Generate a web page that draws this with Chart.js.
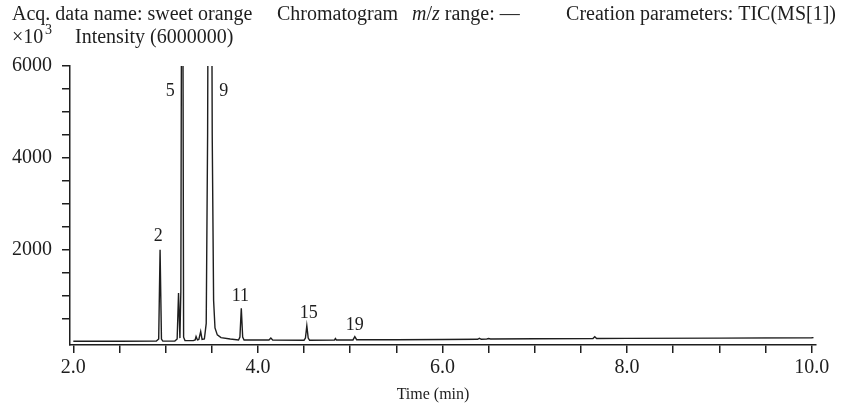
<!DOCTYPE html>
<html>
<head>
<meta charset="utf-8">
<script src="https://cdn.jsdelivr.net/npm/chart.js@4.4.0/dist/chart.umd.min.js"></script>
<style>
  html, body { margin: 0; padding: 0; background: #fff; }
  .wrap { width: 841px; height: 408px; position: relative; }
</style>
</head>
<body>
<div class="wrap"><canvas id="tic"></canvas></div>
<script>
// retention time (min) and intensity (x10^3)
const times = [
  2.0, 2.5, 2.90, 2.925, 2.94, 2.955, 2.97, 3.10, 3.125, 3.14, 3.155, 3.165, 3.18, 3.195, 3.21,
  3.30, 3.32, 3.33, 3.345, 3.36, 3.38, 3.395, 3.42, 3.44, 3.455, 3.47, 3.49, 3.505, 3.52, 3.535,
  3.56, 3.60, 3.70, 3.79, 3.805, 3.82, 3.835, 3.85, 4.12, 4.14, 4.16, 4.50, 4.515, 4.53, 4.545,
  4.56, 4.83, 4.84, 4.85, 5.03, 5.05, 5.07, 5.5, 6.0, 6.38, 6.40, 6.42, 6.48, 6.50, 6.52,
  7.0, 7.63, 7.65, 7.67, 8.0, 9.0, 10.0, 10.02
];
const intensity = [
  10, 12, 15, 60, 2000, 60, 15, 18, 60, 1060, 80, 1100, 14000, 100, 25,
  25, 40, 115, 40, 50, 224, 50, 60, 400, 4500, 14000, 14000, 4500, 900, 300,
  150, 90, 60, 40, 100, 730, 100, 40, 40, 80, 40, 35, 80, 350, 80,
  35, 40, 70, 40, 40, 110, 45, 45, 50, 55, 75, 55, 60, 70, 60,
  65, 70, 110, 72, 75, 80, 88, 90
];

// peak numbers and where they sit (time, intensity)
const peakLabels = ['2', '5', '9', '11', '15', '19'];
const peakLabelTime = [2.92, 3.05, 3.63, 3.81, 4.55, 5.05];
const peakLabelLevel = [2300, 5460, 5460, 1000, 620, 370];

const xTicks = [2.0, 2.5, 3.0, 3.5, 4.0, 4.5, 5.0, 5.5, 6.0, 6.5, 7.0, 7.5, 8.0, 8.5, 9.0, 9.5, 10.0];
const yTicks = [500, 1000, 1500, 2000, 2500, 3000, 3500, 4000, 4500, 5000, 5500, 6000];

const INK = '#1e1e1e';
const SERIF = "'Liberation Serif', 'DejaVu Serif', serif";

const headerText = {
  id: 'headerText',
  afterDraw(chart) {
    const ctx = chart.ctx;
    const xs = chart.scales.x;
    const ys = chart.scales.y;
    ctx.save();
    ctx.fillStyle = INK;
    ctx.textBaseline = 'alphabetic';
    ctx.textAlign = 'left';

    // first header line
    ctx.font = '20px ' + SERIF;
    ctx.fillText('Acq. data name: sweet orange', 12, 20);
    ctx.fillText('Chromatogram', 277, 20);
    let cx = 412;
    ctx.font = 'italic 20px ' + SERIF;
    ctx.fillText('m', cx, 20);
    cx += ctx.measureText('m').width;
    ctx.font = '20px ' + SERIF;
    ctx.fillText('/', cx, 20);
    cx += ctx.measureText('/').width;
    ctx.font = 'italic 20px ' + SERIF;
    ctx.fillText('z', cx, 20);
    cx += ctx.measureText('z').width;
    ctx.font = '20px ' + SERIF;
    ctx.fillText(' range: \u2014', cx, 20);
    ctx.textAlign = 'right';
    ctx.fillText('Creation parameters: TIC(MS[1])', 836, 20);

    // second header line
    ctx.textAlign = 'left';
    ctx.fillText('\u00d710', 12, 43);
    ctx.font = '14px ' + SERIF;
    ctx.fillText('3', 45, 34);
    ctx.font = '20px ' + SERIF;
    ctx.fillText('Intensity (6000000)', 75, 43);

    // axis title
    ctx.font = '16px ' + SERIF;
    ctx.textAlign = 'center';
    ctx.textBaseline = 'middle';
    ctx.fillText('Time (min)', 433, 395);

    // peak numbers
    ctx.font = '18px ' + SERIF;
    peakLabels.forEach((txt, i) => {
      ctx.fillText(txt, xs.getPixelForValue(peakLabelTime[i]), ys.getPixelForValue(peakLabelLevel[i]));
    });
    ctx.restore();
  }
};

new Chart(document.getElementById('tic'), {
  type: 'line',
  data: {
    datasets: [{
      data: times.map((t, i) => ({ x: t, y: intensity[i] })),
      borderColor: INK,
      borderWidth: 1.4,
      pointRadius: 0,
      tension: 0,
      fill: false
    }]
  },
  options: {
    responsive: true,
    maintainAspectRatio: false,
    animation: false,
    layout: {
      padding: { top: 66, right: 25, left: 0, bottom: 0 }
    },
    plugins: {
      legend: { display: false },
      tooltip: { enabled: false }
    },
    scales: {
      x: {
        type: 'linear',
        min: 1.964,
        max: 10.047,
        afterBuildTicks: (scale) => {
          scale.ticks = xTicks.map(v => ({ value: v }));
        },
        afterFit: (scale) => { scale.height = 63; },
        grid: {
          drawOnChartArea: false,
          drawTicks: true,
          tickLength: 8,
          color: INK,
          lineWidth: 1.5
        },
        border: { color: INK, width: 1.5 },
        ticks: {
          autoSkip: false,
          maxRotation: 0,
          padding: 3,
          color: INK,
          font: { family: SERIF, size: 20 },
          callback: (v) => (v % 2 === 0 ? v.toFixed(1) : '')
        }
      },
      y: {
        min: -70,
        max: 6000,
        afterBuildTicks: (scale) => {
          scale.ticks = yTicks.map(v => ({ value: v }));
        },
        afterFit: (scale) => { scale.width = 70; },
        grid: {
          drawOnChartArea: false,
          drawTicks: true,
          tickLength: 8,
          color: INK,
          lineWidth: 1.5
        },
        border: { color: INK, width: 1.5 },
        ticks: {
          autoSkip: false,
          padding: 10,
          color: INK,
          font: { family: SERIF, size: 20 },
          callback: (v) => (v % 2000 === 0 ? String(v) : '')
        }
      }
    }
  },
  plugins: [headerText]
});
</script>
</body>
</html>
